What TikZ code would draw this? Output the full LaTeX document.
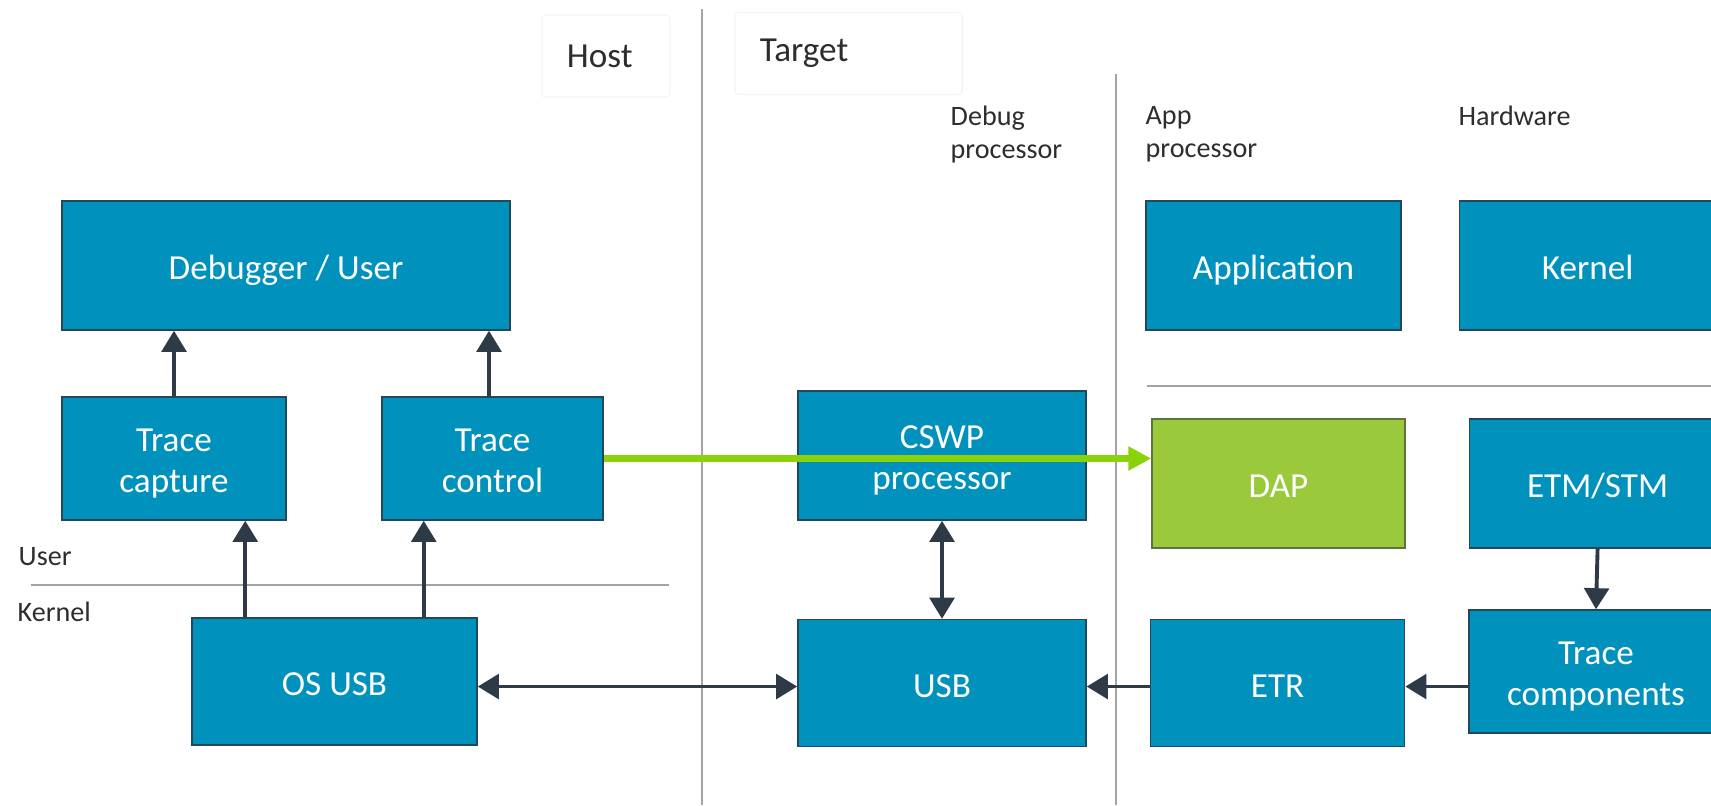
\documentclass[tikz,border=0pt]{standalone}
\usepackage{fontspec}
\setmainfont{Carlito}
\usetikzlibrary{arrows.meta, positioning}

\definecolor{armblue}{RGB}{0,145,189}
\definecolor{armedge}{RGB}{35,72,92}
\definecolor{dapgreen}{RGB}{154,202,60}
\definecolor{dapedge}{RGB}{95,115,60}
\definecolor{linkgreen}{RGB}{138,210,10}
\definecolor{arrowdark}{RGB}{46,59,70}
\definecolor{divgrey}{RGB}{160,165,170}
\definecolor{labelgrey}{RGB}{45,45,45}

\begin{document}
\begin{tikzpicture}[
    x=0.01cm, y=-0.01cm,
    % Style definitions
    unit/.style={rectangle, draw=armedge, line width=0.4pt, fill=armblue, text=white,
                 align=center, font=\fontsize{10}{11.6}\selectfont,
                 execute at begin node={\rule{0pt}{10.5pt}},
                 execute at end node={\rule[-2.5pt]{0pt}{2.5pt}}},
    pair/.style={unit, execute at begin node={\rule{0pt}{21.6pt}}},
    active/.style={unit, fill=dapgreen, draw=dapedge},
    layer/.style={inner sep=0pt, align=left, text=labelgrey, font=\fontsize{8}{9.4}\selectfont},
    side/.style={draw=black!4, rounded corners=1pt, inner xsep=2.5mm, minimum height=8.2mm,
                 align=left, text=labelgrey, font=\fontsize{10}{12}\selectfont},
    divider/.style={draw=divgrey, line width=0.6pt},
    arrow/.style={->, >={Triangle[length=6pt, width=7pt]}, line width=1.1pt, draw=arrowdark, fill=arrowdark},
    link/.style={-{Triangle[length=6.5pt, width=6.5pt]}, line width=2pt, draw=linkgreen, fill=linkgreen},
]
\clip (0,0) rectangle (1711,805);

% Host / target and processor separators
\draw[divider] (702,9) -- (702,805);
\draw[divider] (1116,74) -- (1116,805);
\draw[divider] (31,585) -- (669,585);
\draw[divider] (1147,386) -- (1711,386);

% Column and layer labels
\node[side, text width=7.8mm] (host) at (606,56) {Host};
\node[side, text width=17.7mm] (target) at (848.5,53.5) {Target};
\node[layer, anchor=west] (debugproc) at (950,134.5) {Debug\\processor};
\node[layer, anchor=west] (appproc) at (1145,134.5) {App\\processor};
\node[layer, anchor=west] (hw) at (1458,116) {Hardware};
\node[layer, anchor=west] (user) at (18,557) {User};
\node[layer, anchor=west] (kern) at (17,612) {Kernel};

% Host side
\node[unit, minimum width=44.8mm, minimum height=12.9mm] (debugger) at (286,265.5) {Debugger / User};
\node[pair, minimum width=22.4mm, minimum height=12.3mm] (capture) at (174,458.5) {Trace\\capture};
\node[pair, minimum width=22.1mm, minimum height=12.3mm] (control) at (492.5,458.5) {Trace\\control};
\node[unit, minimum width=28.5mm, minimum height=12.7mm] (osusb) at (334.5,681.5) {OS USB};

% Debug processor
\node[pair, minimum width=28.8mm, minimum height=12.9mm] (cswp) at (942,455.5) {CSWP\\processor};
\node[unit, minimum width=28.8mm, minimum height=12.7mm, below=9.8mm of cswp] (usb) {USB};

% App processor and hardware
\node[unit, minimum width=25.5mm, minimum height=12.9mm] (app) at (1273.5,265.5) {Application};
\node[unit, minimum width=25.6mm, minimum height=12.9mm, right=5.7mm of app] (kernel) {Kernel};
\node[active, minimum width=25.3mm, minimum height=12.9mm] (dap) at (1278.5,483.5) {DAP};
\node[unit, minimum width=25.6mm, minimum height=12.9mm, right=6.3mm of dap] (etm) {ETM/STM};
\node[unit, minimum width=25.4mm, minimum height=12.7mm, right=6.3mm of usb] (etr) {ETR};
\node[pair, minimum width=25.4mm, minimum height=12.3mm] (tcomp) at (1596,671.5) {Trace\\components};

% Arrows - host
\coordinate (ctrltop) at ([xshift=-0.35mm]control.north);
\coordinate (osleft) at ([xshift=5.4mm]osusb.north west);
\coordinate (osright) at ([xshift=-5.4mm]osusb.north east);
\coordinate (bus) at ([yshift=-0.35mm]usb.west);
\draw[arrow] (capture.north) -- (capture.north |- debugger.south);
\draw[arrow] (ctrltop) -- (ctrltop |- debugger.south);
\draw[arrow] (osleft) -- (osleft |- capture.south);
\draw[arrow] (osright) -- (osright |- control.south);
\draw[arrow, <->] (osusb.east |- bus) -- (bus);

% Arrows - target
\draw[arrow, <->] (cswp.south) -- (usb.north);
\draw[arrow] (etr.west |- bus) -- (usb.east |- bus);
\draw[arrow] (tcomp.west |- bus) -- (etr.east |- bus);
\draw[arrow] (etm.south) -- (tcomp.north);

% Debug access link
\draw[link] (control.east) -- (control.east -| dap.west);

\end{tikzpicture}
\end{document}
